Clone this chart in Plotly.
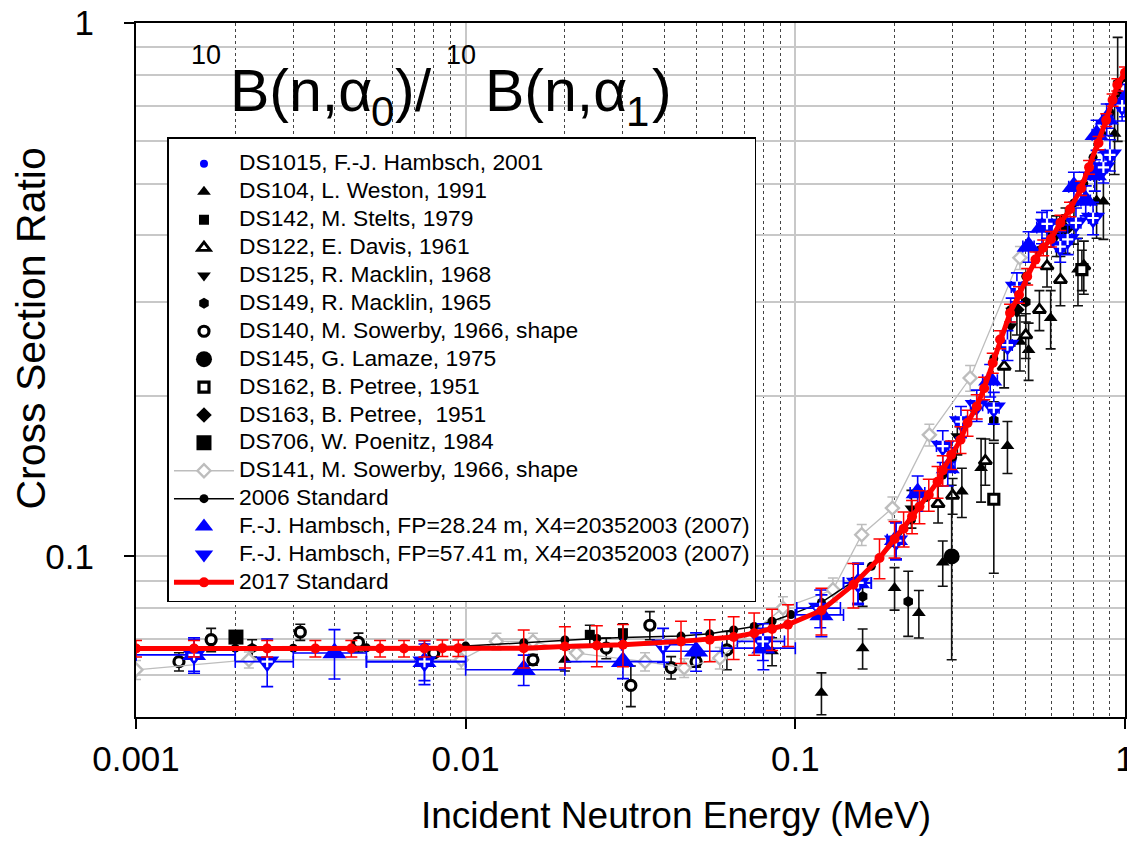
import plotly.graph_objects as go

# ---------------- data ----------------
ds1015_x = [0.30, 0.45, 0.60, 0.75, 0.90]
ds1015_y = [0.152, 0.290, 0.400, 0.500, 0.670]
ds1015_e = [0.008, 0.015, 0.020, 0.025, 0.035]

ds104_x = [0.020, 0.085, 0.120, 0.160, 0.200, 0.237, 0.280, 0.320, 0.366, 0.440, 0.480, 0.510, 0.595, 0.720, 0.820, 0.860, 0.930]
ds104_y = [0.0640, 0.0664, 0.0555, 0.0673, 0.0873, 0.0783, 0.0974, 0.1323, 0.1464, 0.1610, 0.2527, 0.2438, 0.2800, 0.3450, 0.4650, 0.4630, 0.6200]
ds104_e = [0.0030, 0.0040, 0.0050, 0.0058, 0.0080, 0.0080, 0.0095, 0.0140, 0.0200, 0.0180, 0.0300, 0.0300, 0.0350, 0.0500, 0.0700, 0.0700, 0.1000]

ds142_x = [0.0238, 0.0300]
ds142_y = [0.0713, 0.0718]
ds142_e = [0.0030, 0.0030]

ds122_x = [0.271, 0.300, 0.377, 0.430, 0.500, 0.550, 0.580, 0.637, 0.750]
ds122_y = [0.1255, 0.1300, 0.1510, 0.2270, 0.2600, 0.2900, 0.3500, 0.3300, 0.3500]
ds122_e = [0.010, 0.010, 0.015, 0.020, 0.025, 0.025, 0.030, 0.035, 0.040]

ds125_x = [0.225, 0.310, 0.450, 0.620]
ds125_y = [0.123, 0.168, 0.270, 0.400]
ds125_e = [0.010, 0.013, 0.022, 0.035]

ds149_x = [0.00225, 0.160, 0.220, 0.400, 0.500, 0.700, 0.950]
ds149_y = [0.0673, 0.0841, 0.0823, 0.1800, 0.3000, 0.4200, 0.7700]
ds149_e = [0.0025, 0.0035, 0.0115, 0.0150, 0.0250, 0.0350, 0.1700]

ds140_x = [0.00135, 0.00169, 0.00315, 0.00473, 0.00800, 0.01600, 0.02670, 0.03170, 0.03620, 0.04200, 0.05000, 0.06200]
ds140_y = [0.0635, 0.0698, 0.0721, 0.0690, 0.0659, 0.0640, 0.0673, 0.0573, 0.0743, 0.0619, 0.0635, 0.0668]
ds140_e = [0.0025, 0.0035, 0.0025, 0.0028, 0.0010, 0.0015, 0.0030, 0.0050, 0.0045, 0.0030, 0.0015, 0.0055]

ds145_x = [0.298]
ds145_y = [0.100]
ds145_e = [0.036]

ds162_x = [0.400, 0.740]
ds162_y = [0.128, 0.345]
ds162_e = [0.035, 0.030]

ds163_x = [0.470, 0.660]
ds163_y = [0.290, 0.410]
ds163_e = [0.030, 0.040]

ds706_x = [0.00201]
ds706_y = [0.0706]
ds706_e = [0.0015]

ds141_x = [0.0010, 0.0022, 0.0097, 0.0124, 0.0160, 0.0217, 0.0350, 0.0460, 0.0590, 0.0917, 0.1300, 0.1590, 0.1970, 0.2550, 0.3390, 0.4800]
ds141_y = [0.0613, 0.0640, 0.0640, 0.0693, 0.0693, 0.0659, 0.0635, 0.0618, 0.0645, 0.0800, 0.0866, 0.1098, 0.1232, 0.1690, 0.2160, 0.3630]
ds141_e = [0.0025, 0.0022, 0.0025, 0.0025, 0.0025, 0.0025, 0.0025, 0.0025, 0.0030, 0.0040, 0.0045, 0.0050, 0.0060, 0.0080, 0.0120, 0.0180]

std2006_x = [0.001, 0.0015, 0.002, 0.003, 0.005, 0.0075, 0.01, 0.015, 0.02, 0.025, 0.03, 0.045, 0.055, 0.065, 0.075, 0.085, 0.097,
             0.12, 0.15, 0.17, 0.2, 0.225, 0.25, 0.28, 0.3, 0.35, 0.4, 0.45, 0.5, 0.55, 0.6, 0.65, 0.7, 0.75, 0.8, 0.85, 0.9, 0.95, 1.0]
std2006_y = [0.0672, 0.0672, 0.0673, 0.0673, 0.0674, 0.0676, 0.0679, 0.0689, 0.0697, 0.0702, 0.0705, 0.0709, 0.0716, 0.0728, 0.0739, 0.0756, 0.0778,
             0.0820, 0.0898, 0.0958, 0.1060, 0.1170, 0.1290, 0.1420, 0.1535, 0.1880, 0.2350, 0.2900, 0.3350, 0.3750, 0.4000, 0.4300, 0.4600, 0.5000, 0.5600, 0.6200, 0.6800, 0.7400, 0.7900]

h28_x = [0.0015, 0.0040, 0.0075, 0.0150, 0.0300, 0.0500, 0.0800, 0.1200, 0.1550, 0.2020, 0.2350, 0.2900, 0.3900, 0.5100, 0.5600, 0.7000, 0.7600, 0.8100, 0.8200, 0.8800, 1.0000]
h28_y = [0.0654, 0.0659, 0.0635, 0.0613, 0.0635, 0.0664, 0.0673, 0.0777, 0.0892, 0.1075, 0.1315, 0.1465, 0.2140, 0.3810, 0.4135, 0.4932, 0.4650, 0.5190, 0.6170, 0.6600, 0.7173]
h28_ey = [0.0050, 0.0070, 0.0050, 0.0040, 0.0045, 0.0055, 0.0060, 0.0070, 0.0080, 0.0085, 0.0100, 0.0110, 0.0150, 0.0250, 0.0280, 0.0320, 0.0300, 0.0350, 0.0400, 0.0450, 0.0500]
h28_ex = [0.0005, 0.0010, 0.0025, 0.0050, 0.0100, 0.0100, 0.0200, 0.0200, 0.0150, 0.0120, 0.0120, 0.0150, 0.0200, 0.0200, 0.0200, 0.0250, 0.0250, 0.0250, 0.0250, 0.0300, 0.0300]

h57_x = [0.0015, 0.0025, 0.0075, 0.0397, 0.0797, 0.1190, 0.1550, 0.2020, 0.2800, 0.3180, 0.3550, 0.4000, 0.4400, 0.4700, 0.5800, 0.6360, 0.6700, 0.7100, 0.8000, 0.8600, 0.9000, 0.9800]
h57_y = [0.0654, 0.0635, 0.0635, 0.0683, 0.0693, 0.0800, 0.0892, 0.1070, 0.1610, 0.1790, 0.1920, 0.1900, 0.2490, 0.3200, 0.4200, 0.3810, 0.3930, 0.4220, 0.4310, 0.5362, 0.5660, 0.7000]
h57_ey = [0.0045, 0.0065, 0.0060, 0.0050, 0.0055, 0.0065, 0.0075, 0.0085, 0.0110, 0.0120, 0.0130, 0.0130, 0.0160, 0.0200, 0.0250, 0.0250, 0.0250, 0.0280, 0.0300, 0.0350, 0.0380, 0.0450]
h57_ex = [0.0005, 0.0005, 0.0025, 0.0100, 0.0130, 0.0180, 0.0150, 0.0120, 0.0120, 0.0120, 0.0150, 0.0150, 0.0150, 0.0180, 0.0200, 0.0200, 0.0200, 0.0250, 0.0250, 0.0250, 0.0300, 0.0300]

std2017_x = [0.001, 0.0015, 0.0025, 0.0035, 0.0045, 0.0055, 0.0065, 0.0075, 0.0085, 0.0095,
             0.015, 0.02, 0.025, 0.03, 0.045, 0.055, 0.065, 0.075, 0.085, 0.095,
             0.12, 0.15, 0.18, 0.2, 0.213, 0.226, 0.238, 0.254, 0.27, 0.28, 0.297, 0.317, 0.333, 0.355, 0.374, 0.397,
             0.418, 0.448, 0.477, 0.505, 0.535, 0.565, 0.596, 0.637, 0.681, 0.736, 0.778, 0.831, 0.877, 0.917, 0.948, 1.0]
std2017_y = [0.0672, 0.0672, 0.0672, 0.0672, 0.0672, 0.0672, 0.0672, 0.0672, 0.0673, 0.0673,
             0.0673, 0.0678, 0.0681, 0.0683, 0.0693, 0.0698, 0.0706, 0.0718, 0.0731, 0.0745,
             0.0792, 0.0885, 0.0993, 0.1078, 0.1127, 0.1188, 0.1240, 0.1305, 0.1380, 0.1450, 0.1550, 0.1655, 0.1780, 0.1910, 0.2067, 0.2304,
             0.2550, 0.2860, 0.3093, 0.3347, 0.3601, 0.3791, 0.3934, 0.4222, 0.4474, 0.4901, 0.5363, 0.5955, 0.6576, 0.7173, 0.7657, 0.8070]
std2017_e = [0.0024, 0.0024, 0.0024, 0.0024, 0.0024, 0.0024, 0.0024, 0.0024, 0.0024, 0.0024,
             0.0055, 0.0060, 0.0060, 0.0062, 0.0063, 0.0063, 0.0065, 0.0065, 0.0065, 0.0067,
             0.0080, 0.0085, 0.0085, 0.0085, 0.0085, 0.0085, 0.0088, 0.0090, 0.0095, 0.0095, 0.0095, 0.0095, 0.0100, 0.0100, 0.0100, 0.0100,
             0.0100, 0.0110, 0.0110, 0.0120, 0.0120, 0.0130, 0.0130, 0.0140, 0.0140, 0.0150, 0.0160, 0.0170, 0.0180, 0.0190, 0.0200, 0.0200]

x_major = [0.001, 0.01, 0.1, 1]
x_major_text = ["0.001", "0.01", "0.1", "1"]
x_minor = [2e-3, 3e-3, 4e-3, 5e-3, 6e-3, 7e-3, 8e-3, 9e-3,
           0.02, 0.03, 0.04, 0.05, 0.06, 0.07, 0.08, 0.09,
           0.2, 0.3, 0.4, 0.5, 0.6, 0.7, 0.8, 0.9]
y_major = [0.1, 1]
y_major_text = ["0.1", "1"]
y_minor = [0.06, 0.07, 0.08, 0.09, 0.2, 0.3, 0.4, 0.5, 0.6, 0.7, 0.8, 0.9]

FONT = "Liberation Sans, Arial, sans-serif"
LEG = 22.8


def lname(s):
    return '<span style="font-size:%spx">%s</span>' % (LEG, s)


fig = go.Figure()


def add_pts(name, x, y, e, symbol, size, color="black", fill=None, lw=0, ecolor="#111111"):
    fig.add_trace(go.Scatter(
        x=x, y=y, mode="markers", name=lname(name), legendgroup=name,
        marker=dict(symbol=symbol, size=size, color=fill if fill else color,
                    line=dict(color=color, width=lw)),
        error_y=dict(type="data", array=e, color=ecolor, thickness=1.6, width=5),
    ))


add_pts("DS1015, F.-J. Hambsch, 2001", ds1015_x, ds1015_y, ds1015_e, "circle", 8, color="#0000ff", ecolor="#0000ff")
add_pts("DS104, L. Weston, 1991", ds104_x, ds104_y, ds104_e, "triangle-up", 12)
add_pts("DS142, M. Stelts, 1979", ds142_x, ds142_y, ds142_e, "square", 10)
add_pts("DS122, E. Davis, 1961", ds122_x, ds122_y, ds122_e, "triangle-up", 11, fill="white", lw=2.8)
add_pts("DS125, R. Macklin, 1968", ds125_x, ds125_y, ds125_e, "triangle-down", 12)
add_pts("DS149, R. Macklin, 1965", ds149_x, ds149_y, ds149_e, "hexagon", 11)
add_pts("DS140, M. Sowerby, 1966, shape", ds140_x, ds140_y, ds140_e, "circle", 10, fill="white", lw=3.2)
add_pts("DS145, G. Lamaze, 1975", ds145_x, ds145_y, ds145_e, "circle", 16)
add_pts("DS162, B. Petree, 1951", ds162_x, ds162_y, ds162_e, "square", 10, fill="white", lw=3.2)
add_pts("DS163, B. Petree,  1951", ds163_x, ds163_y, ds163_e, "diamond", 12)
add_pts("DS706, W. Poenitz, 1984", ds706_x, ds706_y, ds706_e, "square", 15)

fig.add_trace(go.Scatter(
    x=ds141_x, y=ds141_y, mode="lines+markers", name=lname("DS141, M. Sowerby, 1966, shape"),
    legendgroup="ds141",
    line=dict(color="#bdbdbd", width=1.3),
    marker=dict(symbol="diamond", size=10, color="white", line=dict(color="#bdbdbd", width=2.4)),
    error_y=dict(type="data", array=ds141_e, color="#bdbdbd", thickness=1.5, width=5),
))

fig.add_trace(go.Scatter(
    x=std2006_x, y=std2006_y, mode="lines+markers", name=lname("2006 Standard"),
    legendgroup="s2006",
    line=dict(color="black", width=1.5),
    marker=dict(symbol="circle", size=9, color="black"),
))

fig.add_trace(go.Scatter(
    x=h28_x, y=h28_y, mode="markers",
    name=lname("F.-J. Hambsch, FP=28.24 m, X4=20352003 (2007)"), legendgroup="h28",
    marker=dict(symbol="triangle-up", size=21, color="#0000ff"),
    error_y=dict(type="data", array=h28_ey, color="#0000ff", thickness=1.6, width=6),
    error_x=dict(type="data", array=h28_ex, arrayminus=h28_ex, color="#0000ff", thickness=1.6, width=6),
))

fig.add_trace(go.Scatter(
    x=h57_x, y=h57_y, mode="markers",
    name=lname("F.-J. Hambsch, FP=57.41 m, X4=20352003 (2007)"), legendgroup="h57",
    marker=dict(symbol="triangle-down", size=21, color="#0000ff"),
    error_y=dict(type="data", array=h57_ey, color="#0000ff", thickness=1.6, width=6),
    error_x=dict(type="data", array=h57_ex, arrayminus=h57_ex, color="#0000ff", thickness=1.6, width=6),
))
fig.add_trace(go.Scatter(
    x=h57_x, y=h57_y, mode="markers", showlegend=False, legendgroup="h57", hoverinfo="skip",
    marker=dict(symbol="cross-thin", size=8, color="white", line=dict(color="white", width=2.2)),
))

fig.add_trace(go.Scatter(
    x=std2017_x, y=std2017_y, mode="lines+markers", name=lname("2017 Standard"),
    legendgroup="s2017",
    line=dict(color="#ff0000", width=5),
    marker=dict(symbol="circle", size=10, color="#ff0000"),
    error_y=dict(type="data", array=std2017_e, color="#ff0000", thickness=1.5, width=6),
))

# ---------------- layout ----------------
# page-pixel positions of the plot area (the page body adds an 8px offset)
OFF = 8
L, R, T, B = 135.5, 1125, 23, 717
PW, PH = 1135, 842
W, H = PW - OFF, PH - OFF


def px(xp):
    return (xp - L) / (R - L)


def py(yp):
    return (B - yp) / (B - T)


axis_common = dict(
    type="log", showline=True, linecolor="black", linewidth=2, mirror=True,
    ticks="outside", ticklen=10, tickwidth=2, tickcolor="black", automargin=False,
    ticklabeloverflow="allow",
    tickfont=dict(family=FONT, size=35, color="black"),
    showgrid=True, gridcolor="#c8c8c8", gridwidth=1.5, zeroline=False,
)

fig.update_layout(
    width=W, height=H,
    margin=dict(l=L - OFF, r=PW - R, t=T - OFF, b=PH - B, autoexpand=False),
    paper_bgcolor="white", plot_bgcolor="white",
    font=dict(family=FONT, color="black"),
    xaxis=dict(axis_common, range=[-3, 0], tickmode="array", tickvals=x_major, ticktext=x_major_text,
               minor=dict(tickmode="array", tickvals=x_minor, showgrid=True, gridcolor="#444444",
                          griddash="dot", gridwidth=1, ticks="")),
    yaxis=dict(axis_common, range=[-1.30103, 0], tickmode="array", tickvals=y_major, ticktext=y_major_text,
               ticklabelstandoff=23,
               minor=dict(tickmode="array", tickvals=y_minor, showgrid=True, gridcolor="#c8c8c8",
                          gridwidth=1.5, ticks="")),
    legend=dict(x=px(167), y=py(137), xanchor="left", yanchor="top",
                bgcolor="white", bordercolor="black", borderwidth=1.5,
                font=dict(family=FONT, size=17, color="black"),
                title=dict(text=" ", font=dict(size=6)),
                tracegroupgap=2.8, itemwidth=60, traceorder="grouped"),
    showlegend=True,
)

# axis titles
fig.add_annotation(text="Incident Neutron Energy (MeV)", xref="paper", yref="paper",
                   x=px(676), y=py(815), xanchor="center", yanchor="middle", showarrow=False,
                   font=dict(family=FONT, size=37, color="black"))
fig.add_annotation(text="Cross Section Ratio", xref="paper", yref="paper", textangle=-90,
                   x=px(30), y=py(329), xanchor="center", yanchor="middle", showarrow=False,
                   font=dict(family=FONT, size=41, color="black"))

# chart title built from pieces: (text, size, left px, baseline px)
M = 59
pieces = [
    ("10", 27, 190, 64),
    ("B(n,α", M, 229, 111),
    ("0", 42, 370, 126),
    (")/", M, 394, 111),
    ("10", 27, 445, 64),
    ("B(n,α", M, 484, 111),
    ("1", 42, 625, 126),
    (")", M, 651, 111),
]
for txt, sz, xl, base in pieces:
    fig.add_annotation(text=txt, xref="paper", yref="paper", x=px(xl), y=py(base - 0.3465 * sz),
                       xanchor="left", yanchor="middle", showarrow=False, borderpad=0,
                       font=dict(family=FONT, size=sz, color="black"))

fig.write_html("out.html")
